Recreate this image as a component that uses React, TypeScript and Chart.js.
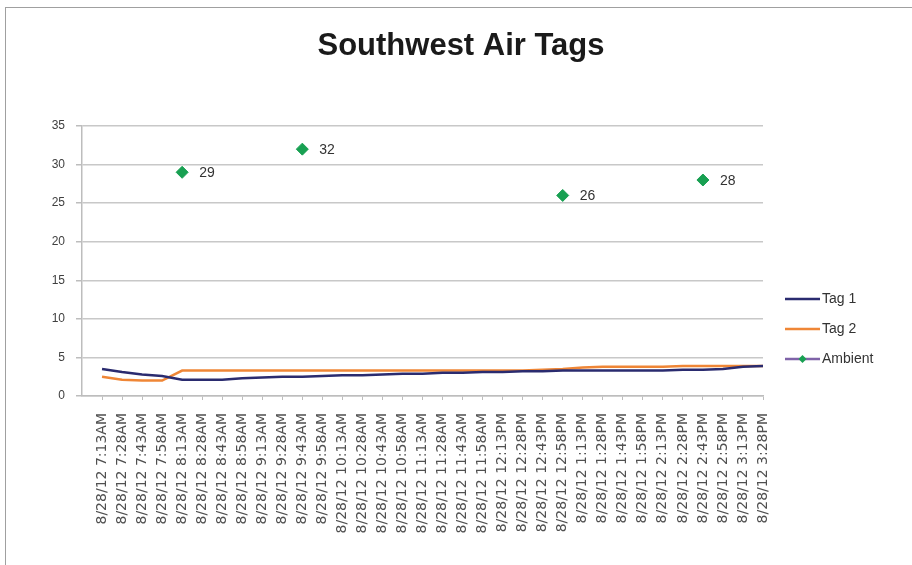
import React, { useEffect, useRef } from 'react';
import { Chart, registerables } from 'chart.js';

Chart.register(...registerables);

const TITLE = 'Southwest Air Tags';

const timeLabels = [
  '8/28/12 7:13AM', '8/28/12 7:28AM', '8/28/12 7:43AM', '8/28/12 7:58AM',
  '8/28/12 8:13AM', '8/28/12 8:28AM', '8/28/12 8:43AM', '8/28/12 8:58AM',
  '8/28/12 9:13AM', '8/28/12 9:28AM', '8/28/12 9:43AM', '8/28/12 9:58AM',
  '8/28/12 10:13AM', '8/28/12 10:28AM', '8/28/12 10:43AM', '8/28/12 10:58AM',
  '8/28/12 11:13AM', '8/28/12 11:28AM', '8/28/12 11:43AM', '8/28/12 11:58AM',
  '8/28/12 12:13PM', '8/28/12 12:28PM', '8/28/12 12:43PM', '8/28/12 12:58PM',
  '8/28/12 1:13PM', '8/28/12 1:28PM', '8/28/12 1:43PM', '8/28/12 1:58PM',
  '8/28/12 2:13PM', '8/28/12 2:28PM', '8/28/12 2:43PM', '8/28/12 2:58PM',
  '8/28/12 3:13PM', '8/28/12 3:28PM',
];

const tag1 = [
  3.5, 3.1, 2.8, 2.6, 2.1, 2.1, 2.1, 2.3, 2.4, 2.5,
  2.5, 2.6, 2.7, 2.7, 2.8, 2.9, 2.9, 3.0, 3.0, 3.1,
  3.1, 3.2, 3.2, 3.3, 3.3, 3.3, 3.3, 3.3, 3.3, 3.4,
  3.4, 3.5, 3.8, 3.9,
];

const tag2 = [
  2.5, 2.1, 2.0, 2.0, 3.3, 3.3, 3.3, 3.3, 3.3, 3.3,
  3.3, 3.3, 3.3, 3.3, 3.3, 3.3, 3.3, 3.3, 3.3, 3.3,
  3.3, 3.3, 3.4, 3.5, 3.7, 3.8, 3.8, 3.8, 3.8, 3.9,
  3.9, 3.9, 3.9, 3.9,
];

const ambient: (number | null)[] = [
  null, null, null, null, 29, null, null, null, null, null,
  32, null, null, null, null, null, null, null, null, null,
  null, null, null, 26, null, null, null, null, null, null,
  28, null, null, null,
];

const seriesNames = ['Tag 1', 'Tag 2', 'Ambient'];
const Y_MIN = 0;
const Y_MAX = 35;
const Y_STEP = 5;

export default function App() {
  const ref = useRef<HTMLCanvasElement>(null);

  useEffect(() => {
    if (!ref.current) return;
    const toXY = (arr: (number | null)[]) => arr.map((v, i) => ({ x: i, y: v }));

    const titlePlugin = {
      id: 'customTitle',
      afterDraw(chart: any) {
        const ctx = chart.ctx;
        ctx.save();
        ctx.font = 'bold 31px "Liberation Sans", Arial, sans-serif';
        ctx.fillStyle = '#1a1a1a';
        ctx.textAlign = 'center';
        ctx.textBaseline = 'alphabetic';
        ctx.fillText(TITLE, 461, 55);
        ctx.restore();
      },
    };

    const dataLabelPlugin = {
      id: 'ambientLabels',
      afterDatasetsDraw(chart: any) {
        const ctx = chart.ctx;
        const meta = chart.getDatasetMeta(2);
        const ds = chart.data.datasets[2];
        ctx.save();
        ctx.font = '14px "Liberation Sans", Arial, sans-serif';
        ctx.fillStyle = '#333333';
        ctx.textAlign = 'left';
        ctx.textBaseline = 'middle';
        meta.data.forEach((pt: any, i: number) => {
          const v = ds.data[i].y;
          if (v === null || v === undefined) return;
          ctx.fillText(String(v), pt.x + 17, pt.y + 1);
        });
        ctx.restore();
      },
    };

    const legendPlugin = {
      id: 'customLegend',
      afterDraw(chart: any) {
        const ctx = chart.ctx;
        ctx.save();
        chart.data.datasets.forEach((ds: any, i: number) => {
          const y = 299 + i * 30;
          ctx.strokeStyle = ds.borderColor;
          ctx.lineWidth = 2.5;
          ctx.beginPath();
          ctx.moveTo(785, y);
          ctx.lineTo(820, y);
          ctx.stroke();
          if (ds.pointRadius > 0) {
            ctx.fillStyle = ds.pointBackgroundColor;
            ctx.beginPath();
            ctx.moveTo(802.5 - 4, y);
            ctx.lineTo(802.5, y - 4);
            ctx.lineTo(802.5 + 4, y);
            ctx.lineTo(802.5, y + 4);
            ctx.closePath();
            ctx.fill();
          }
          ctx.font = '14px "Liberation Sans", Arial, sans-serif';
          ctx.fillStyle = '#333333';
          ctx.textAlign = 'left';
          ctx.textBaseline = 'middle';
          ctx.fillText(ds.label, 822, y);
        });
        ctx.restore();
      },
    };

    const chart = new Chart(ref.current, {
      type: 'line',
      data: {
        datasets: [
          {
            label: seriesNames[0],
            data: toXY(tag1),
            borderColor: '#2a2b6f',
            backgroundColor: '#2a2b6f',
            borderWidth: 2.5,
            pointRadius: 0,
            tension: 0,
          },
          {
            label: seriesNames[1],
            data: toXY(tag2),
            borderColor: '#ef8636',
            backgroundColor: '#ef8636',
            borderWidth: 2.5,
            pointRadius: 0,
            tension: 0,
          },
          {
            label: seriesNames[2],
            data: toXY(ambient),
            borderColor: '#7f63a8',
            backgroundColor: '#18a052',
            pointBackgroundColor: '#18a052',
            pointBorderColor: '#18a052',
            pointBorderWidth: 1,
            borderWidth: 2.5,
            pointStyle: 'rectRot',
            pointRadius: 6,
            spanGaps: false,
          },
        ] as any,
      },
      options: {
        responsive: false,
        animation: false,
        layout: { padding: { top: 126, right: 149, left: 0, bottom: 0 } },
        plugins: {
          legend: { display: false },
          title: { display: false },
          tooltip: { enabled: false },
        },
        scales: {
          x: {
            type: 'linear',
            min: -1,
            max: timeLabels.length - 1,
            afterFit: (scale: any) => { scale.height = 169; },
            afterBuildTicks: (scale: any) => {
              scale.ticks = timeLabels.map((_, i) => ({ value: i }));
            },
            ticks: {
              autoSkip: false,
              minRotation: 90,
              maxRotation: 90,
              padding: 13,
              color: '#505050',
              font: { family: '"DejaVu Sans", sans-serif', size: 14 },
              callback: (v: any) => timeLabels[v as number] ?? '',
            },
            grid: {
              drawOnChartArea: false,
              drawTicks: true,
              tickLength: 4,
              color: '#bdbdbd',
            },
            border: { color: '#bdbdbd', width: 1.5 },
          },
          y: {
            min: Y_MIN,
            max: Y_MAX,
            afterFit: (scale: any) => { scale.width = 82; },
            ticks: {
              stepSize: Y_STEP,
              padding: 11,
              color: '#404040',
              font: { family: '"Liberation Sans", Arial, sans-serif', size: 12 },
            },
            grid: {
              color: '#c8c8c8',
              lineWidth: 1.5,
              tickLength: 6,
              tickColor: '#bdbdbd',
            },
            border: { color: '#bdbdbd', width: 1.5 },
          },
        },
      } as any,
      plugins: [titlePlugin, dataLabelPlugin, legendPlugin],
    });

    return () => chart.destroy();
  }, []);

  return (
    <div style={{ position: 'fixed', left: 0, top: 0, width: 912, height: 565, background: '#ffffff', overflow: 'hidden' }}>
      <div
        style={{
          position: 'absolute', left: 5, top: 7, width: 1000, height: 1000,
          borderTop: '1.5px solid #a0a0a0', borderLeft: '1.5px solid #a0a0a0',
        }}
      />
      <canvas ref={ref} width={912} height={565} style={{ position: 'absolute', left: 0, top: 0 }} />
    </div>
  );
}
